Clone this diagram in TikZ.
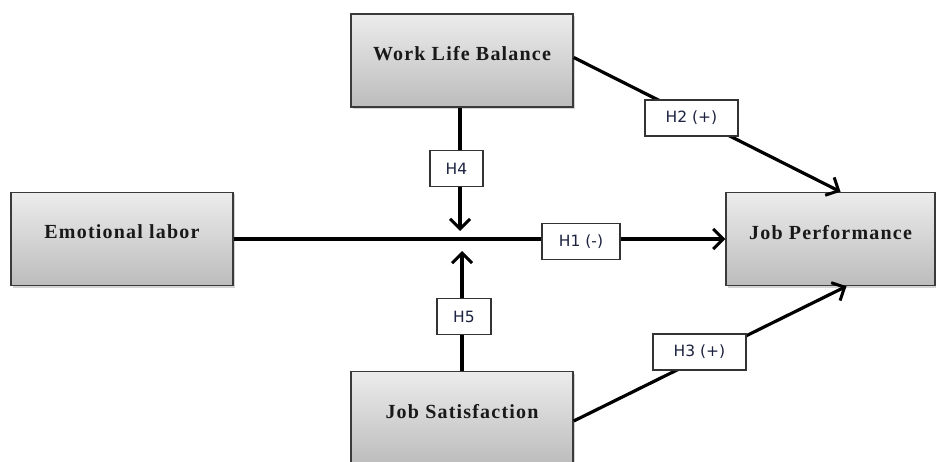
\documentclass[tikz,border=0pt]{standalone}
\usepackage{fontspec}
\setmainfont{Liberation Serif}
\newfontfamily\labfont{DejaVu Sans}
\newfontfamily\titlefont[LetterSpace=6]{Liberation Serif}
\usetikzlibrary{arrows.meta,shadows}
\definecolor{boxtop}{HTML}{ECECEC}
\definecolor{boxbot}{HTML}{BCBCBC}
\definecolor{boxline}{HTML}{3A3A3A}
\definecolor{labtext}{HTML}{1C2240}
\tikzset{
  varbox/.style={draw=boxline, line width=1.5pt, top color=boxtop, bottom color=boxbot,
    minimum width=#1, minimum height=93pt, inner sep=0pt,
    drop shadow={shadow xshift=2pt, shadow yshift=-2pt, opacity=0.35},
    font=\titlefont\fontsize{20}{22}\selectfont\bfseries, text=black!90},
  hlab/.style={draw=black!80, line width=1.2pt, fill=white, minimum width=#1,
    minimum height=36pt, inner sep=0pt, font=\labfont\fontsize{15.5}{17}\selectfont, text=labtext},
  link/.style={line width=3.2pt, draw=black, -{Straight Barb[length=10pt,width=20pt,line width=3pt]}}
}
\begin{document}
\begin{tikzpicture}[x=1pt,y=-1pt]
\useasboundingbox (0,0) rectangle (936,462);
\node[varbox=222pt] (wlb) at (462,60.5) {\raisebox{14pt}{Work Life Balance}};
\node[varbox=222pt] (emo) at (122,239) {\raisebox{14pt}{Emotional labor}};
\node[varbox=209pt] (jp) at (830.5,239) {\raisebox{14pt}{Job Performance}};
\node[varbox=222pt] (js) at (462,418) {\raisebox{14pt}{Job Satisfaction}};
\coordinate (m4) at (460,231);
\coordinate (m5) at (462,251);
\draw[link] (emo.east) -- (jp.west);
\draw[link] ([xshift=-2pt]wlb.south) -- (m4);
\draw[link] (js.north) -- (m5);
\draw[link] ([yshift=3pt]wlb.east) -- ([xshift=10pt]jp.north);
\draw[link] ([yshift=-3pt]js.east) -- ([xshift=16pt]jp.south);
\node[hlab=78pt] (h1) at (581,241.5) {H1 (-)};
\node[hlab=53pt] (h4) at (456.5,168.5) {H4};
\node[hlab=54pt] (h5) at (464,316.5) {H5};
\node[hlab=93pt] (h2) at (691.5,118) {H2 (+)};
\node[hlab=93pt] (h3) at (699.5,352) {H3 (+)};
\end{tikzpicture}
\end{document}
